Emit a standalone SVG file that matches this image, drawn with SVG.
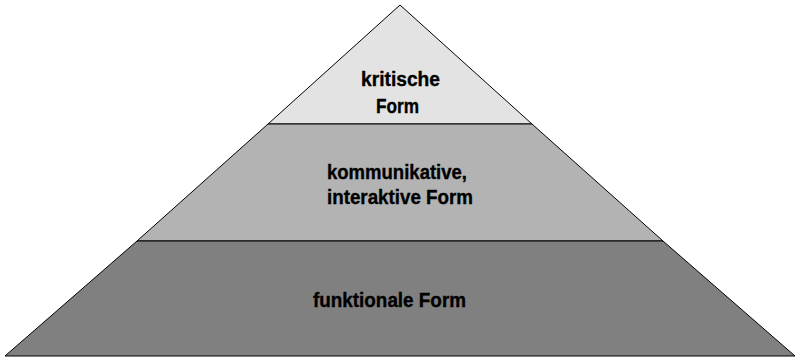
<svg xmlns="http://www.w3.org/2000/svg" width="797" height="362" viewBox="0 0 797 362">
<style>
.lvl{stroke:#000;stroke-width:1;stroke-linejoin:miter}
.t{font-family:"Liberation Sans",Arial,sans-serif;font-weight:bold;font-size:20px;fill:#000;stroke:#000;stroke-width:0.35}
</style>
<rect width="797" height="362" fill="#fff"/>
<g id="top">
<polygon class="lvl" points="400,5 532,124 268,124" fill="#e3e3e3"/>
<text class="t" x="361" y="86" textLength="79" lengthAdjust="spacingAndGlyphs">kritische</text>
<text class="t" x="376" y="113" textLength="43" lengthAdjust="spacingAndGlyphs">Form</text>
</g>
<g id="middle">
<polygon class="lvl" points="268,124 532,124 663,241 137,241" fill="#b3b3b3"/>
<text class="t" x="327" y="179" textLength="140" lengthAdjust="spacingAndGlyphs">kommunikative,</text>
<text class="t" x="327" y="204" textLength="146" lengthAdjust="spacingAndGlyphs">interaktive Form</text>
</g>
<g id="bottom">
<polygon class="lvl" points="137,241 663,241 795,356 5,356" fill="#808080"/>
<text class="t" x="313" y="307" textLength="153" lengthAdjust="spacingAndGlyphs">funktionale Form</text>
</g>
</svg>
